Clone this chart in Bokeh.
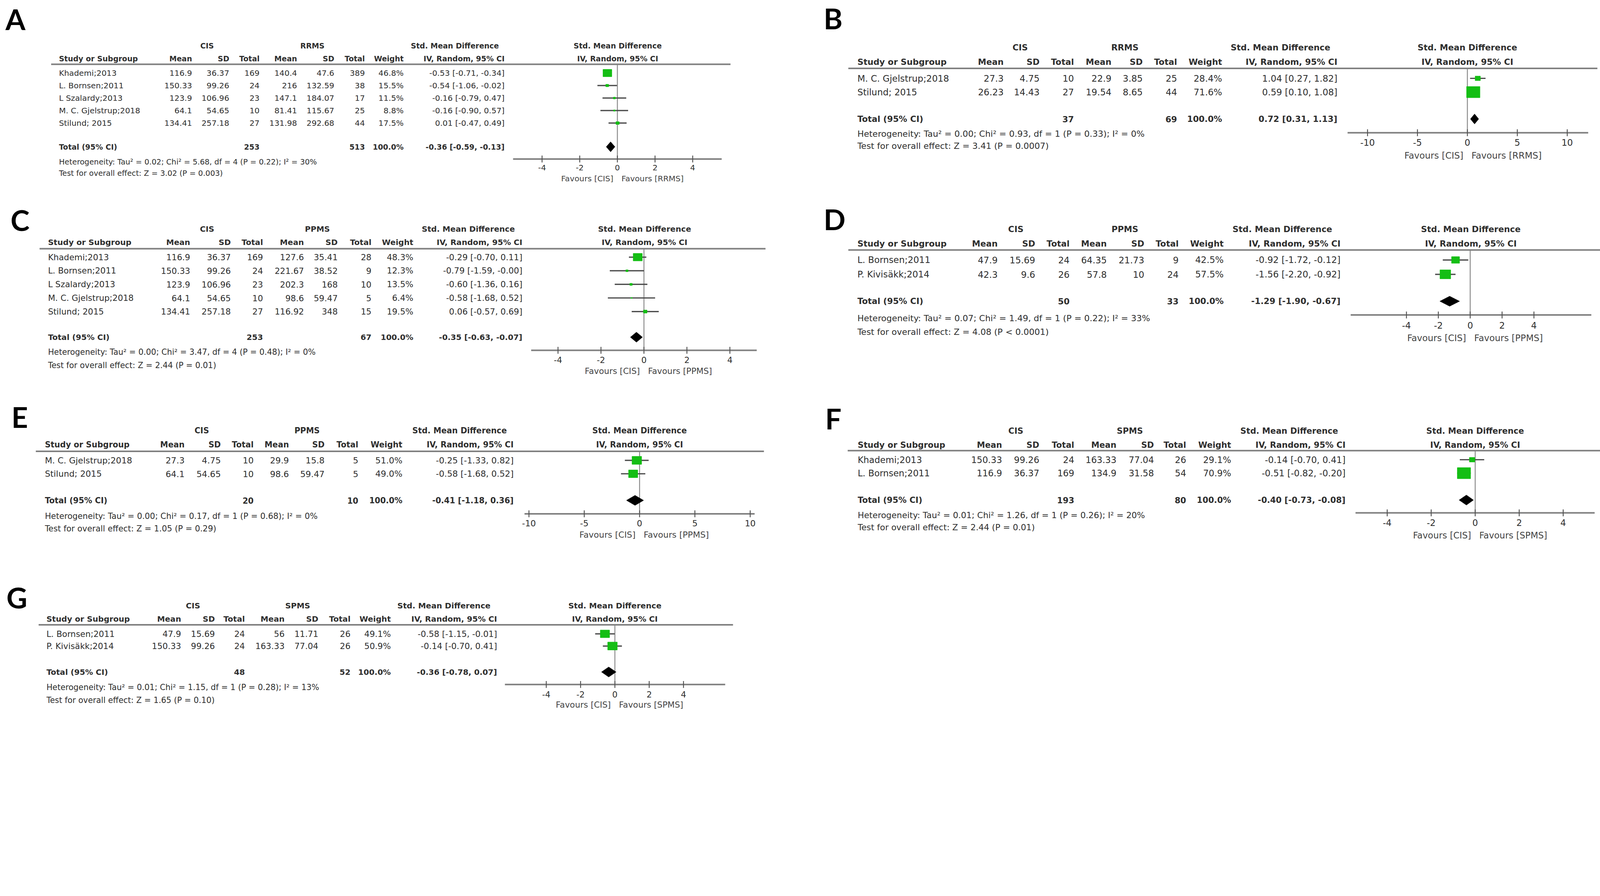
from bokeh.plotting import figure
from bokeh.models import Range1d, ColumnDataSource
from bokeh.embed import file_html
from bokeh.resources import INLINE
from bokeh.core.properties import value

# ------------------------------------------------------------------ data
A_study = ["Khademi;2013", "L. Bornsen;2011", "L Szalardy;2013", "M. C. Gjelstrup;2018", "Stilund; 2015"]
A_cis_mean = [116.9, 150.33, 123.9, 64.1, 134.41]
A_cis_sd = [36.37, 99.26, 106.96, 54.65, 257.18]
A_cis_n = [169, 24, 23, 10, 27]
A_cmp_mean = [140.4, 216, 147.1, 81.41, 131.98]
A_cmp_sd = [47.6, 132.59, 184.07, 115.67, 292.68]
A_cmp_n = [389, 38, 17, 25, 44]
A_weight = [46.8, 15.5, 11.5, 8.8, 17.5]
A_smd = [-0.53, -0.54, -0.16, -0.16, 0.01]
A_lo = [-0.71, -1.06, -0.79, -0.90, -0.47]
A_hi = [-0.34, -0.02, 0.47, 0.57, 0.49]
A_totals = [253, 513]
A_pooled = [-0.36, -0.59, -0.13]
A_het = [0.02, 5.68, 4, 0.22, 30]
A_test = [3.02, "= 0.003"]
A_ticks = [-4, -2, 0, 2, 4]

B_study = ["M. C. Gjelstrup;2018", "Stilund; 2015"]
B_cis_mean = [27.3, 26.23]
B_cis_sd = [4.75, 14.43]
B_cis_n = [10, 27]
B_cmp_mean = [22.9, 19.54]
B_cmp_sd = [3.85, 8.65]
B_cmp_n = [25, 44]
B_weight = [28.4, 71.6]
B_smd = [1.04, 0.59]
B_lo = [0.27, 0.10]
B_hi = [1.82, 1.08]
B_totals = [37, 69]
B_pooled = [0.72, 0.31, 1.13]
B_het = [0.00, 0.93, 1, 0.33, 0]
B_test = [3.41, "= 0.0007"]
B_ticks = [-10, -5, 0, 5, 10]

C_study = ["Khademi;2013", "L. Bornsen;2011", "L Szalardy;2013", "M. C. Gjelstrup;2018", "Stilund; 2015"]
C_cis_mean = [116.9, 150.33, 123.9, 64.1, 134.41]
C_cis_sd = [36.37, 99.26, 106.96, 54.65, 257.18]
C_cis_n = [169, 24, 23, 10, 27]
C_cmp_mean = [127.6, 221.67, 202.3, 98.6, 116.92]
C_cmp_sd = [35.41, 38.52, 168, 59.47, 348]
C_cmp_n = [28, 9, 10, 5, 15]
C_weight = [48.3, 12.3, 13.5, 6.4, 19.5]
C_smd = [-0.29, -0.79, -0.60, -0.58, 0.06]
C_lo = [-0.70, -1.59, -1.36, -1.68, -0.57]
C_hi = [0.11, -0.0, 0.16, 0.52, 0.69]
C_totals = [253, 67]
C_pooled = [-0.35, -0.63, -0.07]
C_het = [0.00, 3.47, 4, 0.48, 0]
C_test = [2.44, "= 0.01"]
C_ticks = [-4, -2, 0, 2, 4]

D_study = ["L. Bornsen;2011", "P. Kivisäkk;2014"]
D_cis_mean = [47.9, 42.3]
D_cis_sd = [15.69, 9.6]
D_cis_n = [24, 26]
D_cmp_mean = [64.35, 57.8]
D_cmp_sd = [21.73, 10]
D_cmp_n = [9, 24]
D_weight = [42.5, 57.5]
D_smd = [-0.92, -1.56]
D_lo = [-1.72, -2.20]
D_hi = [-0.12, -0.92]
D_totals = [50, 33]
D_pooled = [-1.29, -1.90, -0.67]
D_het = [0.07, 1.49, 1, 0.22, 33]
D_test = [4.08, "< 0.0001"]
D_ticks = [-4, -2, 0, 2, 4]

E_study = ["M. C. Gjelstrup;2018", "Stilund; 2015"]
E_cis_mean = [27.3, 64.1]
E_cis_sd = [4.75, 54.65]
E_cis_n = [10, 10]
E_cmp_mean = [29.9, 98.6]
E_cmp_sd = [15.8, 59.47]
E_cmp_n = [5, 5]
E_weight = [51.0, 49.0]
E_smd = [-0.25, -0.58]
E_lo = [-1.33, -1.68]
E_hi = [0.82, 0.52]
E_totals = [20, 10]
E_pooled = [-0.41, -1.18, 0.36]
E_het = [0.00, 0.17, 1, 0.68, 0]
E_test = [1.05, "= 0.29"]
E_ticks = [-10, -5, 0, 5, 10]

F_study = ["Khademi;2013", "L. Bornsen;2011"]
F_cis_mean = [150.33, 116.9]
F_cis_sd = [99.26, 36.37]
F_cis_n = [24, 169]
F_cmp_mean = [163.33, 134.9]
F_cmp_sd = [77.04, 31.58]
F_cmp_n = [26, 54]
F_weight = [29.1, 70.9]
F_smd = [-0.14, -0.51]
F_lo = [-0.70, -0.82]
F_hi = [0.41, -0.20]
F_totals = [193, 80]
F_pooled = [-0.40, -0.73, -0.08]
F_het = [0.01, 1.26, 1, 0.26, 20]
F_test = [2.44, "= 0.01"]
F_ticks = [-4, -2, 0, 2, 4]

G_study = ["L. Bornsen;2011", "P. Kivisäkk;2014"]
G_cis_mean = [47.9, 150.33]
G_cis_sd = [15.69, 99.26]
G_cis_n = [24, 24]
G_cmp_mean = [56, 163.33]
G_cmp_sd = [11.71, 77.04]
G_cmp_n = [26, 26]
G_weight = [49.1, 50.9]
G_smd = [-0.58, -0.14]
G_lo = [-1.15, -0.70]
G_hi = [-0.01, 0.41]
G_totals = [48, 52]
G_pooled = [-0.36, -0.78, 0.07]
G_het = [0.01, 1.15, 1, 0.28, 13]
G_test = [1.65, "= 0.10"]
G_ticks = [-4, -2, 0, 2, 4]

COMPARATOR = {"A": "RRMS", "B": "RRMS", "C": "PPMS", "D": "PPMS", "E": "PPMS", "F": "SPMS", "G": "SPMS"}

DATA = {}
for k in "ABCDEFG":
    g = globals()
    DATA[k] = {f: g[f"{k}_{f}"] for f in ["study", "cis_mean", "cis_sd", "cis_n", "cmp_mean", "cmp_sd", "cmp_n",
                                          "weight", "smd", "lo", "hi", "totals", "pooled", "het", "test", "ticks"]}

# ------------------------------------------------------------------ layout (reference pixels)
LAYOUT = {
    "A": dict(fs=27.0, letter=(27, 70), grp_y=156, sub_y=197, line_y=215, line_x=(173, 2347), row0=243, drow=40,
              total_y=479, het_y=527, test_y=564, study_x=198,
              cols=[624, 743, 840, 960, 1079, 1177, 1301, 1624], cis_cx=672, cmp_cx=1009, smd_cx=1465,
              plot_cx=1986, zero=1985, unit=60.25, axis_y=518, axis_lim=(-5.54, 5.54), tick_y=546, fav_y=580),
    "B": dict(fs=30.5, letter=(2645, 67), grp_y=161, sub_y=207, line_y=228, line_x=(2724, 5121), row0=260, drow=44,
              total_y=390, het_y=438, test_y=476, study_x=2753,
              cols=[3221, 3336, 3446, 3566, 3666, 3776, 3920, 4289], cis_cx=3274, cmp_cx=3609, smd_cx=4107,
              plot_cx=4705, zero=4705, unit=31.95, axis_y=434, axis_lim=(-12.0, 12.1), tick_y=465, fav_y=507),
    "C": dict(fs=28.5, letter=(43, 713), grp_y=742, sub_y=784, line_y=805, line_x=(136, 2459), row0=832, drow=43.5,
              total_y=1088, het_y=1136, test_y=1178, study_x=163,
              cols=[618, 748, 851, 982, 1090, 1198, 1332, 1681], cis_cx=672, cmp_cx=1025, smd_cx=1508,
              plot_cx=2072, zero=2070, unit=68.75, axis_y=1130, axis_lim=(-5.25, 5.25), tick_y=1160, fav_y=1196),
    "D": dict(fs=30.5, letter=(2645, 710), grp_y=742, sub_y=789, line_y=809, line_x=(2724, 5134), row0=841, drow=46,
              total_y=973, het_y=1027, test_y=1071, study_x=2753,
              cols=[3202, 3322, 3432, 3551, 3671, 3781, 3925, 4299], cis_cx=3260, cmp_cx=3609, smd_cx=4113,
              plot_cx=4716, zero=4714, unit=51.0, axis_y=1017, axis_lim=(-7.5, 7.6), tick_y=1050, fav_y=1090),
    "E": dict(fs=29.0, letter=(46, 1342), grp_y=1387, sub_y=1432, line_y=1453, line_x=(124, 2454), row0=1482, drow=43,
              total_y=1610, het_y=1660, test_y=1701, study_x=153,
              cols=[600, 716, 821, 934, 1048, 1156, 1297, 1653], cis_cx=655, cmp_cx=992, smd_cx=1480,
              plot_cx=2056, zero=2056, unit=35.4, axis_y=1653, axis_lim=(-10.4, 10.4), tick_y=1683, fav_y=1720),
    "F": dict(fs=30.0, letter=(2650, 1347), grp_y=1387, sub_y=1432, line_y=1451, line_x=(2722, 5136), row0=1480, drow=43,
              total_y=1609, het_y=1657, test_y=1696, study_x=2754,
              cols=[3216, 3335, 3447, 3582, 3702, 3805, 3949, 4315], cis_cx=3260, cmp_cx=3625, smd_cx=4135,
              plot_cx=4730, zero=4730, unit=70.4, axis_y=1650, axis_lim=(-5.44, 5.43), tick_y=1681, fav_y=1722),
    "G": dict(fs=28.5, letter=(30, 1920), grp_y=1947, sub_y=1989, line_y=2008, line_x=(133, 2355), row0=2037, drow=39,
              total_y=2159, het_y=2208, test_y=2249, study_x=158,
              cols=[589, 697, 793, 920, 1028, 1131, 1260, 1600], cis_cx=627, cmp_cx=962, smd_cx=1430,
              plot_cx=1977, zero=1977, unit=54.9, axis_y=2199, axis_lim=(-6.41, 6.43), tick_y=2231, fav_y=2264),
}

# the page is photographed at 1.25 device px per CSS px: CSS px = S * reference px
S = 0.8
W, H = 4100, 1816
OFF = 10  # body margin (8 CSS px) in reference px
REF_W, REF_H = W / S, H / S

TEXT_C = "#2e2e2e"
LINE_C = "#808080"
CI_C = "#4a4a4a"
GREEN = "#14be14"
FONT = "DejaVu Sans"


def px(v):
    return f"{v * S:.1f}px"


# (relative size, weight, colour, font)
STYLES = {
    "body": (0.94, "normal", TEXT_C, FONT),
    "head": (0.88, "bold", TEXT_C, FONT),
    "total": (0.88, "bold", TEXT_C, FONT),
    "note": (0.90, "normal", TEXT_C, FONT),
    "letter": (None, "bold", "#000000", "Lato"),
}


def fmt(v):
    return f"{v:g}"


def ci_text(e, l, h):
    return f"{e:.2f} [{l:.2f}, {h:.2f}]"


p = figure(width=W, height=H, x_range=Range1d(OFF, OFF + REF_W), y_range=Range1d(OFF + REF_H, OFF),
           output_backend="svg", toolbar_location=None, min_border=0,
           x_axis_location=None, y_axis_location=None)
p.outline_line_color = None
p.grid.visible = False
p.background_fill_color = "white"
p.border_fill_color = "white"

texts = {}


def add_text(x, y, s, align, style, fs):
    rel, weight, color, font = STYLES[style]
    size = px(92) if rel is None else px(fs * rel)
    key = (align, size, weight, color, font)
    d = texts.setdefault(key, dict(x=[], y=[], text=[]))
    d["x"].append(x)
    d["y"].append(y)
    d["text"].append(s)


seg = dict(x0=[], x1=[], y0=[], y1=[])

for k in "ABCDEFG":
    d = DATA[k]
    L = LAYOUT[k]
    fs = L["fs"]
    cols = L["cols"]
    rname = "r" + k
    # scale: value v sits at reference x = zero + v * unit
    p.extra_x_ranges[rname] = Range1d((OFF - L["zero"]) / L["unit"], (OFF + REF_W - L["zero"]) / L["unit"])

    add_text(L["letter"][0], L["letter"][1], k, "left", "letter", fs)

    add_text(L["cis_cx"], L["grp_y"], "CIS", "center", "head", fs)
    add_text(L["cmp_cx"], L["grp_y"], COMPARATOR[k], "center", "head", fs)
    add_text(L["smd_cx"], L["grp_y"], "Std. Mean Difference", "center", "head", fs)
    add_text(L["plot_cx"], L["grp_y"], "Std. Mean Difference", "center", "head", fs)
    add_text(L["study_x"], L["sub_y"], "Study or Subgroup", "left", "head", fs)
    for c, lab in zip(cols, ["Mean", "SD", "Total", "Mean", "SD", "Total", "Weight", "IV, Random, 95% CI"]):
        add_text(c, L["sub_y"], lab, "right", "head", fs)
    add_text(L["plot_cx"], L["sub_y"], "IV, Random, 95% CI", "center", "head", fs)

    seg["x0"].append(L["line_x"][0]); seg["x1"].append(L["line_x"][1])
    seg["y0"].append(L["line_y"]); seg["y1"].append(L["line_y"])

    n = len(d["study"])
    rows_y = [L["row0"] + i * L["drow"] for i in range(n)]
    for i in range(n):
        y = rows_y[i]
        add_text(L["study_x"], y, d["study"][i], "left", "body", fs)
        vals = [fmt(d["cis_mean"][i]), fmt(d["cis_sd"][i]), str(d["cis_n"][i]),
                fmt(d["cmp_mean"][i]), fmt(d["cmp_sd"][i]), str(d["cmp_n"][i]),
                f"{d['weight'][i]:.1f}%", ci_text(d["smd"][i], d["lo"][i], d["hi"][i])]
        for c, s in zip(cols, vals):
            add_text(c, y, s, "right", "body", fs)

    ty = L["total_y"]
    add_text(L["study_x"], ty, "Total (95% CI)", "left", "total", fs)
    add_text(cols[2], ty, str(d["totals"][0]), "right", "total", fs)
    add_text(cols[5], ty, str(d["totals"][1]), "right", "total", fs)
    add_text(cols[6], ty, "100.0%", "right", "total", fs)
    add_text(cols[7], ty, ci_text(*d["pooled"]), "right", "total", fs)

    tau2, chi2, df, ph, i2 = d["het"]
    add_text(L["study_x"], L["het_y"],
             f"Heterogeneity: Tau\u00b2 = {tau2:.2f}; Chi\u00b2 = {chi2:.2f}, df = {df} (P = {ph:.2f}); I\u00b2 = {i2}%",
             "left", "note", fs)
    add_text(L["study_x"], L["test_y"], f"Test for overall effect: Z = {d['test'][0]:.2f} (P {d['test'][1]})",
             "left", "note", fs)

    # ---- forest plot through the panel's own x scale
    ay = L["axis_y"]
    p.segment(x0=[0], x1=[0], y0=[L["line_y"]], y1=[ay], x_range_name=rname,
              line_color="#8a8a8a", line_width=3 * S)
    p.segment(x0=[L["axis_lim"][0]], x1=[L["axis_lim"][1]], y0=[ay], y1=[ay], x_range_name=rname,
              line_color=LINE_C, line_width=5 * S)
    nt = len(d["ticks"])
    p.segment(x0=d["ticks"], x1=d["ticks"], y0=[ay - 11] * nt, y1=[ay + 11] * nt,
              x_range_name=rname, line_color="#555555", line_width=3 * S)
    p.text(x=d["ticks"], y=[L["tick_y"]] * nt, text=[str(t) for t in d["ticks"]],
           x_range_name=rname, text_align="center", text_baseline="middle",
           text_font=value(FONT), text_font_size=px(fs * 0.94), text_color=TEXT_C)
    p.text(x=[0, 0], y=[L["fav_y"]] * 2, text=["Favours [CIS]", f"Favours [{COMPARATOR[k]}]"],
           x_offset=[-13 * S, 13 * S], text_align=["right", "left"], x_range_name=rname, text_baseline="middle",
           text_font=value(FONT), text_font_size=px(fs * 0.94), text_color="#444444")
    p.segment(x0=d["lo"], x1=d["hi"], y0=rows_y, y1=rows_y, x_range_name=rname,
              line_color=CI_C, line_width=4 * S)
    p.rect(x=d["smd"], y=rows_y, width=[0.6 * w * S for w in d["weight"]], height=[0.5 * w * S for w in d["weight"]],
           width_units="screen", height_units="screen", x_range_name=rname,
           fill_color=GREEN, line_color=GREEN, line_width=1)
    e, lo, hi = d["pooled"]
    p.patch(x=[lo, e, hi, e], y=[ty, ty - 16, ty, ty + 16], x_range_name=rname,
            fill_color="black", line_color="black", line_width=1)

p.segment(x0="x0", x1="x1", y0="y0", y1="y1", source=ColumnDataSource(seg),
          line_color=LINE_C, line_width=5 * S)

for (align, size, weight, color, font), dd in texts.items():
    p.text(x="x", y="y", text="text", source=ColumnDataSource(dd),
           text_align=align, text_baseline="middle", text_font=value(font),
           text_font_size=size, text_font_style=weight, text_color=color)

open("out.html", "w").write(file_html(p, INLINE))
